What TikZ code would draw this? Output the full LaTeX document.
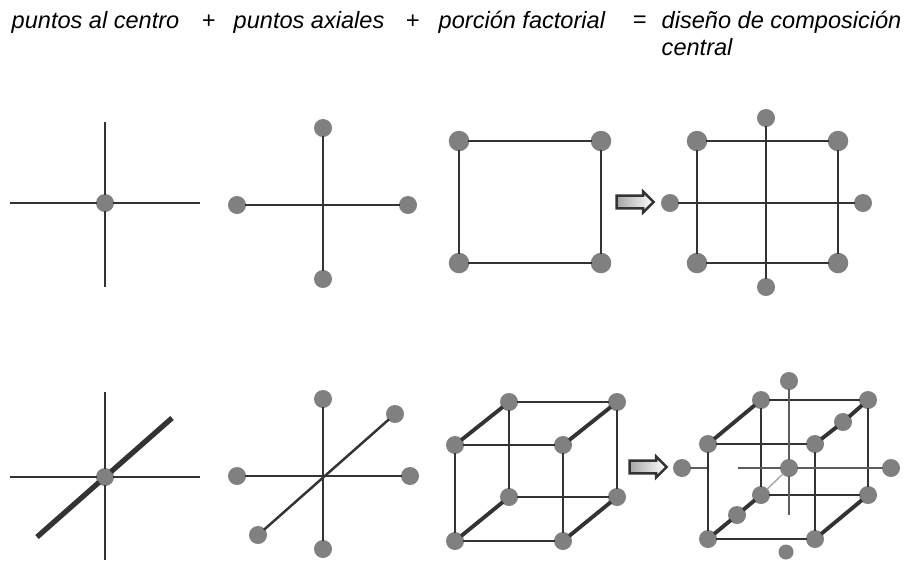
\documentclass[tikz,border=0pt]{standalone}
\usepackage{fontspec}
\setmainfont{Liberation Sans}
\usetikzlibrary{shapes.arrows}
\definecolor{cdot}{HTML}{808080}
\definecolor{cline}{HTML}{333333}
\tikzset{
  every picture/.style={x=0.01cm,y=-0.01cm,font=\fontsize{6.7}{8}\selectfont\itshape},
  dotc/.style={circle,fill=cdot,inner sep=0pt,outer sep=-0.3pt,minimum size=0.205cm},
  dots/.style={circle,fill=cdot,inner sep=0pt,outer sep=-0.3pt,minimum size=0.18cm},
  axis/.style={cline,line width=0.7pt},
  edge/.style={cline,line width=0.7pt},
  depth/.style={cline,line width=1.1pt},
  thinax/.style={cline!80,line width=0.4pt},
  lbl/.style={anchor=west,inner sep=0pt},
  block/.style={single arrow,draw=cline,line width=0.7pt,left color=cdot!70,right color=white,
    single arrow head extend=0.008cm,single arrow head indent=0cm,minimum height=0.37cm,minimum width=0.21cm,inner sep=0pt},
}
\begin{document}
\begin{tikzpicture}
  \path[use as bounding box,fill=white] (0,0) rectangle (904,560);
  \node[lbl] (tcentro) at (11,22) {puntos al centro};
  \node[lbl] (tmas) at (201,22) {+};
  \node[lbl] (taxial) at (233,22) {puntos axiales};
  \node[lbl] (tmasb) at (405,22) {+};
  \node[lbl] (tfact) at (438,22) {porción factorial};
  \node[lbl] (tigual) at (632,22) {=};
  \node[lbl] (tdis) at (661,22) {diseño de composición};
  \node[lbl] (tcent) at (661,47) {central};
  % fila 2^2
  \node[dots] (ac) at (105,203) {};
  \coordinate (al) at (10,203);
  \coordinate (ar) at (200,203);
  \coordinate (at) at (105,122);
  \coordinate (ab) at (105,287);
  \foreach \p in {al,ar,at,ab} \draw[axis] (ac) -- (\p);
  \coordinate (bc) at (323,205);
  \node[dots] (bt) at (323,128) {};
  \node[dots] (bb) at (323,279) {};
  \node[dots] (bl) at (237,205) {};
  \node[dots] (br) at (408,205) {};
  \draw[axis] (bt) -- (bb);
  \draw[axis] (bl) -- (br);
  \node[dotc] (c1) at (459,141) {};
  \node[dotc] (c2) at (601,141) {};
  \node[dotc] (c3) at (601,263) {};
  \node[dotc] (c4) at (459,263) {};
  \draw[edge] (c1) -- (c2) -- (c3) -- (c4) -- (c1);
  \node[block] (fa) at (632,202) {};
  \node[dotc] (d1) at (697,141) {};
  \node[dotc] (d2) at (838,141) {};
  \node[dotc] (d3) at (838,263) {};
  \node[dotc] (d4) at (697,263) {};
  \node[dots] (dt) at (766,118) {};
  \node[dots] (db) at (766,287) {};
  \node[dots] (dl) at (670,203) {};
  \node[dots] (dr) at (863,203) {};
  \draw[edge] (d1) -- (d2) -- (d3) -- (d4) -- (d1);
  \draw[axis] (dt) -- (db);
  \draw[axis] (dl) -- (dr);
  % fila 2^3
  \node[dots] (ec) at (105,477) {};
  \coordinate (el) at (10,477);
  \coordinate (er) at (200,477);
  \coordinate (et) at (105,392);
  \coordinate (eb) at (105,560);
  \coordinate (ef) at (37,537);
  \coordinate (ek) at (172,418);
  \foreach \p in {el,er,et,eb} \draw[axis] (ec) -- (\p);
  \draw[cline,line width=1.5pt] (ef) -- (ec) -- (ek);
  \coordinate (fc) at (323,476);
  \node[dots] (ft) at (323,399) {};
  \node[dots] (fb) at (323,549) {};
  \node[dots] (fl) at (237,476) {};
  \node[dots] (fr) at (410,476) {};
  \node[dots] (fk) at (395,414) {};
  \node[dots] (ff) at (258,535) {};
  \draw[axis] (ft) -- (fb);
  \draw[axis] (fl) -- (fr);
  \draw[axis] (ff) -- (fk);
  \node[dots] (g1) at (455,445) {};
  \node[dots] (g2) at (563,445) {};
  \node[dots] (g3) at (563,541) {};
  \node[dots] (g4) at (455,541) {};
  \node[dots] (g5) at (509,402) {};
  \node[dots] (g6) at (617,402) {};
  \node[dots] (g7) at (617,497) {};
  \node[dots] (g8) at (509,497) {};
  \draw[edge] (g1) -- (g2) -- (g3) -- (g4) -- (g1);
  \draw[edge] (g5) -- (g6) -- (g7) -- (g8) -- (g5);
  \foreach \a/\b in {g1/g5,g2/g6,g3/g7,g4/g8} \draw[depth] (\a) -- (\b);
  \node[block] (fb2) at (645,467) {};
  \node[dots] (h1) at (708,444) {};
  \node[dots] (h2) at (815,444) {};
  \node[dots] (h3) at (815,539) {};
  \node[dots] (h4) at (708,539) {};
  \node[dots] (h5) at (761,400) {};
  \node[dots] (h6) at (868,400) {};
  \node[dots] (h7) at (868,495) {};
  \node[dots] (h8) at (761,495) {};
  \node[dots] (hc) at (789,468) {};
  \node[dots] (ht) at (789,381) {};
  \node[dots,minimum size=0.15cm] (hb) at (786,552) {};
  \node[dots] (hl) at (682,468) {};
  \node[dots] (hr) at (891,468) {};
  \node[dots] (hk) at (843,422) {};
  \node[dots] (hf) at (737,515) {};
  \coordinate (hla) at (707,468);
  \coordinate (hlb) at (738,468);
  \coordinate (hbb) at (789,515);
  \draw[edge] (h1) -- (h2) -- (h3) -- (h4) -- (h1);
  \draw[edge] (h5) -- (h6) -- (h7) -- (h8) -- (h5);
  \foreach \a/\b in {h1/h5,h3/h7,h2/hk,hk/h6,h4/hf,hf/h8} \draw[depth] (\a) -- (\b);
  \draw[thinax] (hl) -- (hla);
  \draw[thinax] (hlb) -- (hc);
  \foreach \p in {hr,ht,hbb} \draw[thinax] (hc) -- (\p);
  \draw[gray!70,line width=0.4pt] (hc) -- (h8);
\end{tikzpicture}
\end{document}
